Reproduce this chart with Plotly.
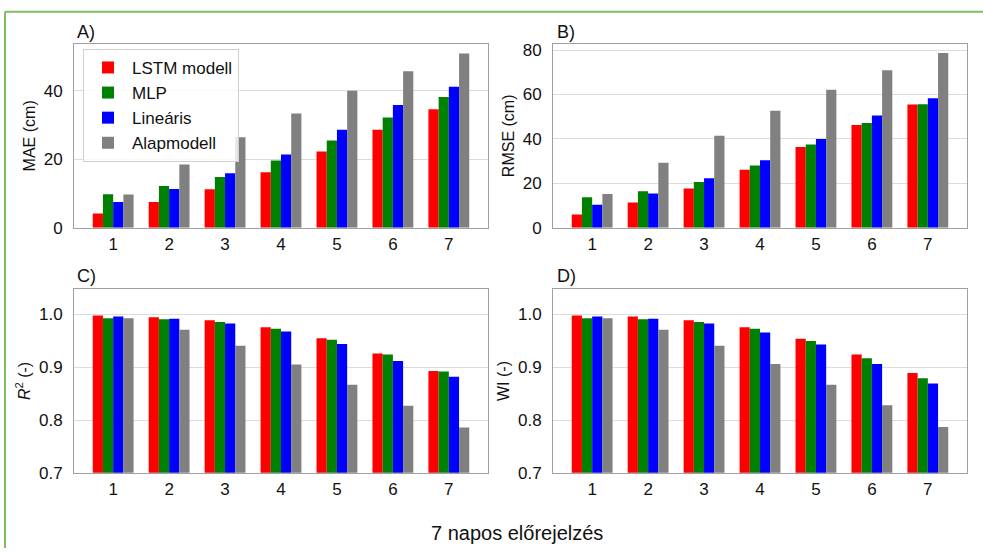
import plotly.graph_objects as go

horizons = [1, 2, 3, 4, 5, 6, 7]
tick_labels = ["1", "2", "3", "4", "5", "6", "7"]
series_names = ["LSTM modell", "MLP", "Lineáris", "Alapmodell"]
colors = ["#ff0000", "#008000", "#0000ff", "#808080"]

mae_lstm = [4.1, 7.5, 11.2, 16.2, 22.3, 28.6, 34.6]
mae_mlp = [9.8, 12.2, 14.8, 19.6, 25.5, 32.2, 38.2]
mae_lin = [7.5, 11.3, 15.9, 21.4, 28.6, 35.9, 41.2]
mae_base = [9.7, 18.5, 26.4, 33.4, 40.0, 45.7, 50.9]

rmse_lstm = [5.9, 11.3, 17.6, 26.1, 36.3, 46.2, 55.5]
rmse_mlp = [13.7, 16.4, 20.6, 28.0, 37.4, 47.1, 55.6]
rmse_lin = [10.3, 15.4, 22.2, 30.4, 39.9, 50.5, 58.3]
rmse_base = [15.1, 29.2, 41.4, 52.6, 62.1, 70.9, 78.7]

r2_lstm = [0.998, 0.995, 0.989, 0.976, 0.955, 0.926, 0.893]
r2_mlp = [0.993, 0.991, 0.986, 0.973, 0.952, 0.924, 0.892]
r2_lin = [0.996, 0.992, 0.983, 0.968, 0.944, 0.912, 0.882]
r2_base = [0.993, 0.971, 0.941, 0.905, 0.867, 0.827, 0.786]

wi_lstm = [0.998, 0.996, 0.989, 0.976, 0.954, 0.924, 0.889]
wi_mlp = [0.993, 0.991, 0.986, 0.973, 0.950, 0.917, 0.879]
wi_lin = [0.996, 0.992, 0.983, 0.966, 0.943, 0.906, 0.869]
wi_base = [0.993, 0.971, 0.941, 0.906, 0.867, 0.828, 0.787]

panels = [
    ("x", "y", [mae_lstm, mae_mlp, mae_lin, mae_base]),
    ("x2", "y2", [rmse_lstm, rmse_mlp, rmse_lin, rmse_base]),
    ("x3", "y3", [r2_lstm, r2_mlp, r2_lin, r2_base]),
    ("x4", "y4", [wi_lstm, wi_mlp, wi_lin, wi_base]),
]

W, H = 983, 558
FONT = "Liberation Sans, Arial, sans-serif"

fig = go.Figure()
for pi, (xa, ya, data) in enumerate(panels):
    for si, vals in enumerate(data):
        fig.add_trace(go.Bar(
            x=horizons, y=vals, name=series_names[si],
            marker=dict(color=colors[si], line=dict(width=0)),
            xaxis=xa, yaxis=ya, offsetgroup=str(si),
            showlegend=(pi == 0), legendgroup=series_names[si],
        ))

def px_x(a, b):
    return [a / W, b / W]

def px_y(top, bottom):
    return [(H - bottom) / H, (H - top) / H]

grid = "#dcdcdc"
frame = "#a0a0a0"
common_x = dict(range=[0.3, 7.7], tickvals=horizons, ticktext=tick_labels,
                showgrid=False, showline=True, mirror=True, linecolor=frame,
                linewidth=1, ticks="", zeroline=False,
                tickfont=dict(family=FONT, size=17, color="#111"),
                ticklabelstandoff=1)
common_y = dict(showgrid=True, gridcolor=grid, gridwidth=1, showline=True,
                mirror=True, linecolor=frame, linewidth=1, ticks="",
                zeroline=False, tickfont=dict(family=FONT, size=17, color="#111"),
                ticklabelstandoff=7)
ytitle_font = dict(family=FONT, size=16, color="#111")

fig.update_layout(
    width=W, height=H,
    margin=dict(l=0, r=0, t=0, b=0),
    paper_bgcolor="white", plot_bgcolor="white",
    barmode="group", bargap=0.27, bargroupgap=0,
    font=dict(family=FONT, color="#111"),
    xaxis=dict(domain=px_x(74, 488), anchor="y", **common_x),
    xaxis2=dict(domain=px_x(553, 967), anchor="y2", **common_x),
    xaxis3=dict(domain=px_x(74, 488), anchor="y3", **common_x),
    xaxis4=dict(domain=px_x(553, 967), anchor="y4", **common_x),
    yaxis=dict(domain=px_y(42, 230), anchor="x", range=[0, 53.7],
               tickvals=[0, 20, 40], title=dict(text="MAE (cm)", font=ytitle_font, standoff=4),
               **common_y),
    yaxis2=dict(domain=px_y(42, 230), anchor="x2", range=[0, 82.7],
                tickvals=[0, 20, 40, 60, 80], title=dict(text="RMSE (cm)", font=ytitle_font, standoff=4),
                **common_y),
    yaxis3=dict(domain=px_y(293, 481), anchor="x3", range=[0.7, 1.048],
                tickvals=[0.7, 0.8, 0.9, 1.0], tickformat=".1f",
                title=dict(text="<i>R</i><sup>2</sup> (-)", font=ytitle_font, standoff=4),
                **common_y),
    yaxis4=dict(domain=px_y(293, 481), anchor="x4", range=[0.7, 1.048],
                tickvals=[0.7, 0.8, 0.9, 1.0], tickformat=".1f",
                title=dict(text="WI (-)", font=ytitle_font, standoff=4),
                **common_y),
    legend=dict(x=83 / W, y=(H - 47) / H, xanchor="left", yanchor="top",
                bgcolor="rgba(255,255,255,0.8)", bordercolor="#d0d0d0", borderwidth=1,
                font=dict(family=FONT, size=17, color="#111"),
                tracegroupgap=0, itemwidth=38),
)

for txt, x, y in [("A)", 75, 30), ("B)", 555, 30), ("C)", 75, 280), ("D)", 555, 280)]:
    fig.add_annotation(text=txt, x=x / W, y=(H - y) / H, xref="paper", yref="paper",
                       xanchor="left", yanchor="middle", showarrow=False,
                       font=dict(family=FONT, size=18, color="#111"))

fig.add_annotation(text="7 napos előrejelzés", x=517 / W, y=(H - 543) / H,
                   xref="paper", yref="paper", xanchor="center", yanchor="middle",
                   showarrow=False, font=dict(family=FONT, size=20, color="#111"))

border = "rgb(125,190,95)"
fig.add_shape(type="line", xref="paper", yref="paper", x0=5 / W, x1=1, y0=(H - 9) / H, y1=(H - 9) / H,
              line=dict(color=border, width=2))
fig.add_shape(type="line", xref="paper", yref="paper", x0=5 / W, x1=5 / W, y0=0, y1=(H - 9) / H,
              line=dict(color=border, width=2))

fig.write_html("out.html", config={"displayModeBar": False},
               post_script="document.body.style.margin='0';document.body.style.overflow='hidden';")
